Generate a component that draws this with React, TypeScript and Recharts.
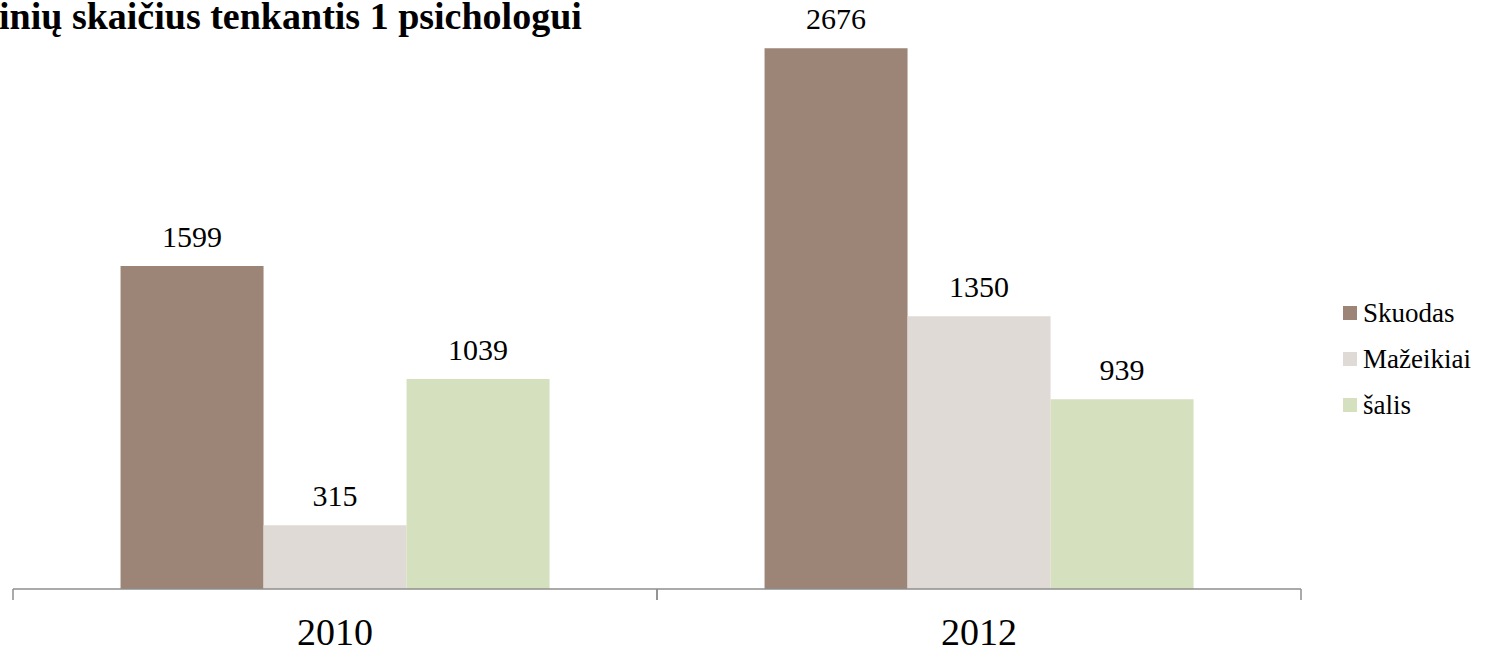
import React from 'react';
import { BarChart, Bar, XAxis, YAxis, LabelList } from 'recharts';

const categories = ['2010', '2012'];
const skuodas = [1599, 2676];
const mazeikiai = [315, 1350];
const salis = [1039, 939];
const seriesKeys = ['s0', 's1', 's2'];
const seriesNames = ['Skuodas', 'Mažeikiai', 'šalis'];
const seriesColors = ['#9C8577', '#DFDAD6', '#D5E0BF'];
const titleText = 'inių skaičius tenkantis 1 psichologui';

const data = categories.map((c, i) => ({
  year: c,
  s0: skuodas[i],
  s1: mazeikiai[i],
  s2: salis[i],
}));

const FONT = "'Liberation Serif', 'Times New Roman', serif";
const TICK_MARGIN = 29;
const TICK_LEN = 11;
const AXIS_COLOR = '#8E8E8E';

function CategoryTick(props: any) {
  const { x, y, payload } = props;
  const half = payload && typeof payload.offset === 'number' && payload.offset > 0 ? payload.offset : 322;
  const axisY = y - TICK_MARGIN;
  return (
    <g>
      <line x1={x - half} x2={x - half} y1={axisY} y2={axisY + TICK_LEN} stroke={AXIS_COLOR} strokeWidth={1.5} />
      <line x1={x + half} x2={x + half} y1={axisY} y2={axisY + TICK_LEN} stroke={AXIS_COLOR} strokeWidth={1.5} />
      <text x={x} y={y} dy="0.71em" textAnchor="middle" fontSize={38} fill="#000" fontFamily={FONT}>
        {payload.value}
      </text>
    </g>
  );
}

export default function App() {
  return (
    <div style={{ position: 'absolute', left: 0, top: 0, width: 1487, height: 653, background: '#fff', fontFamily: FONT, overflow: 'hidden' }}>
      <BarChart
        width={1487}
        height={653}
        data={data}
        margin={{ top: 3, right: 186, bottom: 0, left: 13 }}
        barCategoryGap="16.7%"
        barGap={0}
      >
        <YAxis hide domain={[0, 2900]} />
        <XAxis
          dataKey="year"
          height={64}
          axisLine={{ stroke: AXIS_COLOR, strokeWidth: 1.5 }}
          tickLine={false}
          tickSize={0}
          tickMargin={TICK_MARGIN}
          tick={<CategoryTick />}
          interval={0}
        />
        {seriesKeys.map((k, i) => (
          <Bar key={k} dataKey={k} name={seriesNames[i]} fill={seriesColors[i]} isAnimationActive={false}>
            <LabelList dataKey={k} position="top" offset={19} style={{ fontSize: 30, fill: '#000', fontFamily: FONT }} />
          </Bar>
        ))}
      </BarChart>
      <div style={{ position: 'absolute', left: -1, top: -8, fontSize: 38, fontWeight: 'bold', whiteSpace: 'nowrap', color: '#000', lineHeight: '48px' }}>
        {titleText}
      </div>
      <div style={{ position: 'absolute', left: 1343, top: 290 }}>
        {seriesNames.map((n, i) => (
          <div key={n} style={{ display: 'flex', alignItems: 'center', height: 46 }}>
            <div style={{ width: 14, height: 14, background: seriesColors[i], marginRight: 6 }} />
            <span style={{ fontSize: 27, color: '#000' }}>{n}</span>
          </div>
        ))}
      </div>
    </div>
  );
}
